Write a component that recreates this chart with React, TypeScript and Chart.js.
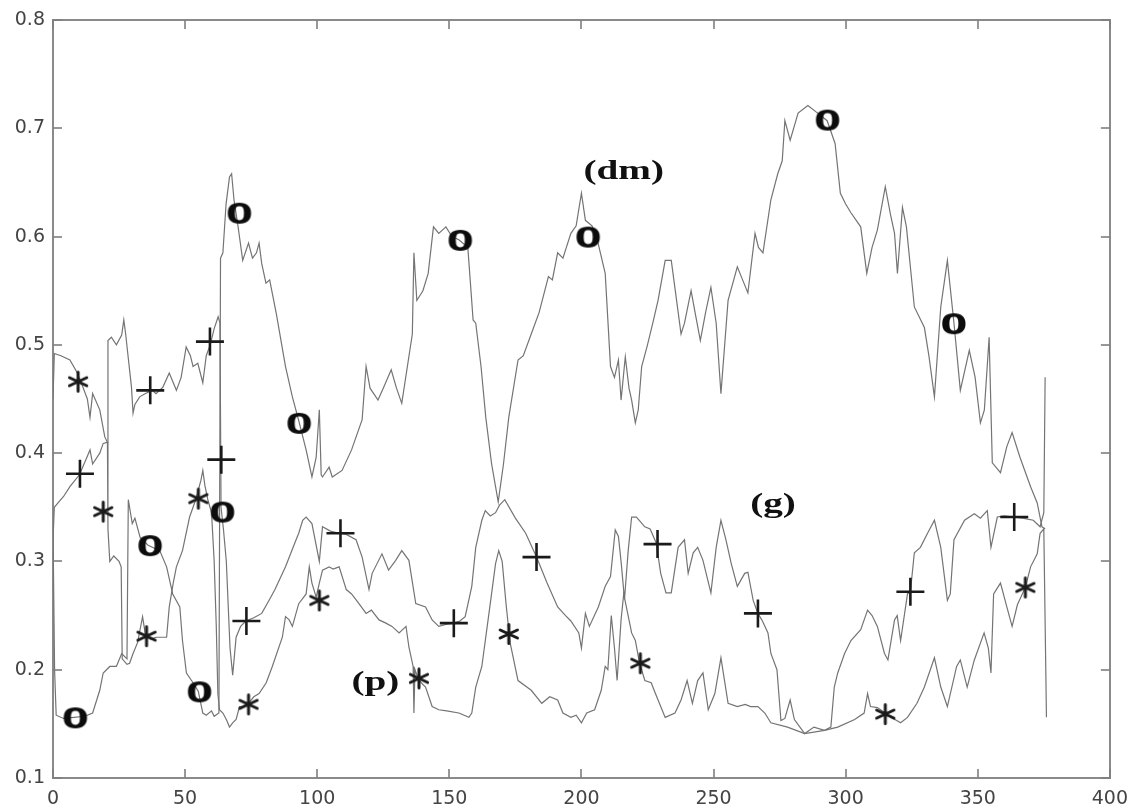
import React, { useEffect, useRef } from 'react';
import { Chart, registerables } from 'chart.js';

Chart.register(...registerables);

// ---- axis ticks ----
const xTickValues = [0, 50, 100, 150, 200, 250, 300, 350, 400];
const yTickValues = [0.1, 0.2, 0.3, 0.4, 0.5, 0.6, 0.7, 0.8];

// ---- curve with "o" markers ----
const lineO: [number, number][] = [
  [0, 0.33], [0.6, 0.2], [1.2, 0.158], [4, 0.155], [8, 0.156], [12, 0.157], [15, 0.16], [17.7, 0.181],
  [19, 0.197], [21.5, 0.203], [24, 0.203], [26, 0.215], [28, 0.21], [28.5, 0.357], [30, 0.335], [31, 0.34],
  [33, 0.322], [36, 0.315], [40.4, 0.31], [43, 0.295], [45.3, 0.27], [48, 0.258], [49, 0.227], [50.5, 0.197],
  [53, 0.188], [55, 0.18], [56.7, 0.16], [58, 0.158], [60, 0.162], [61, 0.157], [62.8, 0.16], [63.4, 0.58],
  [64.3, 0.585], [65.5, 0.63], [66.8, 0.655], [67.6, 0.658], [68.5, 0.634], [70, 0.61], [71.8, 0.578],
  [74, 0.594], [75.5, 0.58], [77, 0.585], [78, 0.594], [79, 0.575], [80.6, 0.557], [82, 0.56], [84.5, 0.529],
  [88, 0.48], [90.6, 0.452], [93, 0.43], [95.8, 0.403], [98, 0.378], [99.6, 0.396], [100.8, 0.44],
  [101.5, 0.38], [102, 0.378], [104.5, 0.387], [105.7, 0.378], [109.4, 0.384], [113, 0.403], [117, 0.431],
  [118.5, 0.48], [120, 0.46], [123, 0.449], [125, 0.46], [128, 0.477], [130, 0.46], [132, 0.446],
  [136, 0.51], [136.6, 0.585], [137.7, 0.541], [140, 0.55], [142, 0.566], [144, 0.609], [146, 0.603],
  [148.7, 0.609], [151, 0.6], [153.6, 0.597], [157, 0.59], [159, 0.523], [160, 0.52], [162, 0.48],
  [163.8, 0.433], [166, 0.39], [168.5, 0.355], [170.5, 0.39], [172.5, 0.433], [176, 0.486], [178, 0.49],
  [181, 0.51], [184, 0.53], [187.5, 0.563], [189, 0.56], [191, 0.585], [193, 0.58], [196, 0.603],
  [198, 0.61], [200, 0.64], [201.5, 0.615], [204, 0.61], [206, 0.597], [209, 0.566], [211, 0.48],
  [212.5, 0.47], [214, 0.486], [215, 0.449], [216.6, 0.489], [218, 0.46], [219, 0.449], [220.4, 0.428],
  [221.5, 0.44], [222.8, 0.48], [225, 0.5], [227, 0.52], [229, 0.541], [231.7, 0.578], [234, 0.578],
  [237.7, 0.51], [239, 0.52], [241.5, 0.55], [243, 0.53], [245, 0.504], [247, 0.53], [249, 0.553],
  [251, 0.52], [252.8, 0.455], [255.5, 0.541], [259, 0.572], [261, 0.56], [263, 0.548], [265.7, 0.603],
  [267, 0.59], [268.7, 0.585], [271.7, 0.634], [274.3, 0.658], [276, 0.67], [277, 0.707], [279, 0.689],
  [282, 0.714], [285.7, 0.721], [289.4, 0.714], [293, 0.707], [296, 0.686], [298, 0.64], [300, 0.63],
  [302, 0.622], [305.7, 0.609], [308, 0.566], [310, 0.59], [312, 0.606], [315, 0.646], [317, 0.62],
  [318.5, 0.603], [319.6, 0.566], [321.5, 0.627], [323, 0.609], [326, 0.535], [329.8, 0.516],
  [331.5, 0.49], [333.6, 0.452], [336, 0.535], [338.5, 0.578], [341, 0.52], [343.4, 0.458],
  [346.8, 0.495], [349, 0.47], [351, 0.428], [352.5, 0.44], [354.3, 0.507], [355.5, 0.391],
  [358.6, 0.382], [361, 0.406], [363, 0.419], [366, 0.396], [370, 0.369], [372.5, 0.354],
  [374.3, 0.332], [375.5, 0.33],
];

// ---- curve with "+" markers ----
const linePlus: [number, number][] = [
  [0, 0.32], [0.5, 0.35], [1.9, 0.354], [4, 0.36], [6.4, 0.369], [10, 0.38], [12.8, 0.396], [14, 0.403],
  [15, 0.39], [17.7, 0.4], [19, 0.409], [20.5, 0.41], [20.8, 0.504], [22.1, 0.507], [24, 0.5], [26, 0.509],
  [26.8, 0.523], [27.5, 0.51], [28.3, 0.492], [29.7, 0.461], [30.3, 0.437], [31, 0.445], [32.8, 0.452],
  [35, 0.455], [37.5, 0.458], [39, 0.455], [41.6, 0.461], [44, 0.474], [46.7, 0.458], [48.5, 0.47],
  [50.4, 0.498], [52, 0.49], [53, 0.48], [54.8, 0.483], [56.7, 0.465], [58, 0.49], [59.5, 0.5],
  [61, 0.515], [62.5, 0.526], [63.2, 0.52], [63.6, 0.35], [64.5, 0.33], [65.6, 0.3], [67, 0.22],
  [68, 0.195], [69.3, 0.23], [71, 0.24], [73, 0.245], [76, 0.248], [79, 0.252], [82, 0.265], [84, 0.274],
  [88, 0.295], [92, 0.32], [93, 0.326], [94.5, 0.338], [95.8, 0.341], [98, 0.335], [100.8, 0.3],
  [102, 0.332], [105, 0.328], [108.3, 0.326], [111, 0.325], [114.7, 0.32], [117, 0.304], [119.6, 0.274],
  [120.8, 0.289], [124.5, 0.307], [127, 0.292], [129.7, 0.301], [132, 0.31], [134.7, 0.301],
  [137.3, 0.261], [141, 0.258], [143.5, 0.246], [146, 0.24], [149, 0.242], [151.7, 0.243], [154, 0.245],
  [156, 0.249], [158.5, 0.277], [160, 0.313], [162.3, 0.338], [163.6, 0.347], [165.5, 0.342],
  [167.5, 0.345], [169, 0.352], [171, 0.357], [175, 0.34], [178.9, 0.326], [183, 0.304], [187, 0.28],
  [191, 0.258], [194, 0.25], [196, 0.245], [199, 0.234], [200, 0.22], [201.5, 0.252], [203, 0.24],
  [206.4, 0.258], [209, 0.277], [211, 0.286], [212.8, 0.329], [214, 0.323], [215, 0.3], [216.3, 0.265],
  [217.7, 0.31], [219, 0.341], [220.8, 0.341], [224, 0.332], [226, 0.33], [228.3, 0.317], [230, 0.289],
  [232, 0.271], [234, 0.271], [236.6, 0.313], [239, 0.32], [240.4, 0.289], [242.3, 0.308], [244, 0.313],
  [246, 0.301], [249, 0.271], [251, 0.313], [252.8, 0.338], [254.7, 0.32], [256.7, 0.298], [259, 0.277],
  [261.8, 0.289], [263, 0.29], [265, 0.264], [266.8, 0.252], [268.5, 0.245], [270.6, 0.234],
  [271.7, 0.215], [274, 0.2], [275.5, 0.153], [277, 0.155], [279, 0.172], [280.6, 0.154], [284.5, 0.141],
  [288, 0.147], [292, 0.144], [294.4, 0.147], [295.7, 0.184], [297, 0.197], [299.6, 0.215], [302, 0.227],
  [305.7, 0.237], [308.3, 0.255], [310, 0.25], [312, 0.24], [314.7, 0.215], [316, 0.209], [318.5, 0.246],
  [319.5, 0.25], [320.8, 0.227], [323.4, 0.27], [324.5, 0.272], [326, 0.308], [328.3, 0.313],
  [331, 0.326], [333.6, 0.338], [336, 0.313], [338.5, 0.264], [339.6, 0.27], [341, 0.32], [345, 0.338],
  [348.7, 0.344], [351, 0.34], [353.6, 0.347], [355, 0.313], [357.4, 0.341], [360, 0.342],
  [363.7, 0.341], [367, 0.34], [371, 0.338], [373.6, 0.332], [375, 0.345], [375.5, 0.47],
];

// ---- curve with "*" markers ----
const lineStar: [number, number][] = [
  [0, 0.45], [0.5, 0.492], [3, 0.49], [6.4, 0.486], [9, 0.475], [11.3, 0.461], [13, 0.45], [14, 0.433],
  [15, 0.455], [17.7, 0.44], [19.6, 0.415], [20.6, 0.41], [20.8, 0.33], [21.5, 0.3], [23, 0.305],
  [25, 0.3], [25.8, 0.295], [26.2, 0.21], [28, 0.205], [29, 0.206], [30.3, 0.215], [32, 0.225],
  [33.9, 0.249], [35, 0.232], [37, 0.228], [39, 0.23], [43, 0.23], [44, 0.258], [45.5, 0.28],
  [46.7, 0.295], [49, 0.31], [51.7, 0.341], [54, 0.357], [56, 0.375], [56.7, 0.384], [57.5, 0.37],
  [58.6, 0.357], [60, 0.345], [61, 0.3], [61.8, 0.24], [62.4, 0.178], [63, 0.163], [64.3, 0.16],
  [65.6, 0.154], [66.8, 0.147], [68, 0.151], [69.3, 0.154], [70.6, 0.166], [71.8, 0.166], [74, 0.169],
  [76, 0.175], [78, 0.178], [80.7, 0.188], [83, 0.203], [86.8, 0.23], [88, 0.249], [89.4, 0.246],
  [90.6, 0.24], [93, 0.261], [95.8, 0.27], [97, 0.295], [98, 0.28], [99.6, 0.267], [100.8, 0.28],
  [102, 0.292], [104.5, 0.295], [106, 0.293], [108.3, 0.295], [111, 0.274], [113, 0.27], [115.8, 0.261],
  [118.5, 0.252], [120.5, 0.255], [123.4, 0.246], [126, 0.243], [128.3, 0.24], [131, 0.234],
  [133.6, 0.24], [134.7, 0.221], [136.3, 0.203], [136.6, 0.16], [137, 0.2], [138.5, 0.19], [141, 0.184],
  [143.5, 0.166], [146, 0.163], [149, 0.162], [153.6, 0.16], [157.4, 0.156], [158.5, 0.16], [160, 0.184],
  [162.3, 0.203], [165, 0.252], [167.5, 0.298], [168.7, 0.31], [170, 0.3], [171.5, 0.26], [173, 0.225],
  [176, 0.19], [181, 0.181], [185, 0.169], [188, 0.175], [191, 0.172], [193, 0.16], [196, 0.156],
  [198, 0.158], [200, 0.151], [202, 0.16], [205, 0.163], [207.5, 0.181], [209, 0.203], [210, 0.2],
  [211.3, 0.25], [212.5, 0.22], [213.5, 0.19], [215, 0.246], [216, 0.27], [217, 0.258], [219, 0.234],
  [220.4, 0.227], [222, 0.206], [224, 0.19], [226.4, 0.188], [228, 0.178], [231.7, 0.156], [235.4, 0.16],
  [237.7, 0.172], [240, 0.19], [242, 0.169], [244, 0.19], [246, 0.197], [248, 0.163], [250.5, 0.178],
  [252.8, 0.211], [255.5, 0.169], [259, 0.166], [262, 0.168], [264, 0.166], [266.8, 0.166],
  [269.4, 0.16], [271.7, 0.151], [278, 0.147], [284.5, 0.141], [292, 0.144], [297, 0.147],
  [303.4, 0.154], [307, 0.16], [308.3, 0.178], [309.4, 0.166], [312, 0.165], [315, 0.16], [318, 0.155],
  [320.8, 0.151], [323.4, 0.156], [327, 0.169], [329.8, 0.184], [333.6, 0.211], [336, 0.184],
  [338.5, 0.166], [342, 0.203], [343.4, 0.209], [346, 0.184], [348.7, 0.209], [352.4, 0.234],
  [354, 0.22], [355, 0.197], [356, 0.27], [358.6, 0.28], [361, 0.258], [363, 0.24], [365, 0.26],
  [368, 0.276], [370, 0.295], [372.5, 0.307], [373.6, 0.326], [375, 0.33], [376, 0.156],
];

// ---- marker positions ----
const marksO: [number, number][] = [
  [8.5, 0.156], [36.8, 0.315], [55.5, 0.18], [64.2, 0.346], [70.6, 0.622], [93.2, 0.428],
  [154.2, 0.597], [202.6, 0.6], [293.2, 0.708], [341, 0.52],
];
const marksPlus: [number, number][] = [
  [10.2, 0.381], [36.8, 0.458], [59.4, 0.503], [63.7, 0.394], [73.2, 0.245], [108.8, 0.326],
  [151.7, 0.243], [183, 0.304], [228.8, 0.316], [266.8, 0.252], [324.5, 0.272], [363.8, 0.341],
];
const marksStar: [number, number][] = [
  [9.5, 0.466], [19, 0.346], [35.4, 0.231], [55, 0.358], [74, 0.168], [100.8, 0.264],
  [138.5, 0.192], [172.5, 0.233], [222.3, 0.206], [315, 0.159], [368, 0.276],
];

// ---- curve names ----
const curveNames = ['(dm)', '(g)', '(p)'];
const curveNameX = [216, 272.5, 122];
const curveNameY = [0.66, 0.352, 0.188];

const toXY = (arr: [number, number][]) => arr.map(([x, y]) => ({ x, y }));

const FRAME = '#8a8a8a';

function makeO(): HTMLCanvasElement {
  const c = document.createElement('canvas');
  c.width = 32;
  c.height = 30;
  const ctx = c.getContext('2d')!;
  ctx.fillStyle = '#0d0d0d';
  ctx.strokeStyle = '#0d0d0d';
  ctx.lineWidth = 2;
  ctx.lineJoin = 'round';
  ctx.font = 'bold 30px "Liberation Serif", "DejaVu Serif", serif';
  ctx.textAlign = 'center';
  ctx.textBaseline = 'alphabetic';
  ctx.save();
  ctx.translate(16, 25);
  ctx.scale(1.04, 1.0);
  ctx.fillText('O', 0, 0);
  ctx.strokeText('O', 0, 0);
  ctx.restore();
  return c;
}

function makeStar(): HTMLCanvasElement {
  const c = document.createElement('canvas');
  c.width = 24;
  c.height = 24;
  const ctx = c.getContext('2d')!;
  ctx.strokeStyle = '#1a1a1a';
  ctx.lineWidth = 3;
  ctx.lineCap = 'round';
  const r = 9.5;
  const angles = [90, 25, 155];
  ctx.beginPath();
  angles.forEach((a) => {
    const rad = (a * Math.PI) / 180;
    ctx.moveTo(12 - r * Math.cos(rad), 12 + r * Math.sin(rad));
    ctx.lineTo(12 + r * Math.cos(rad), 12 - r * Math.sin(rad));
  });
  ctx.stroke();
  return c;
}

const overlayPlugin = {
  id: 'matlabOverlay',
  afterDraw(chart: any) {
    const ctx: CanvasRenderingContext2D = chart.ctx;
    const a = chart.chartArea;
    const xs = chart.scales.x;
    const ys = chart.scales.y;
    ctx.save();
    // inward tick marks on all four sides
    ctx.fillStyle = '#7f7f7f';
    const L = 9;
    const W = 1.6;
    xTickValues.forEach((v) => {
      const px = Math.round(xs.getPixelForValue(v));
      ctx.fillRect(px - W / 2, a.bottom - L, W, L);
      ctx.fillRect(px - W / 2, a.top, W, L);
    });
    yTickValues.forEach((v) => {
      const py = Math.round(ys.getPixelForValue(v));
      ctx.fillRect(a.left, py - W / 2, L, W);
      ctx.fillRect(a.right - L, py - W / 2, L, W);
    });

    // curve names
    ctx.fillStyle = '#111';
    ctx.font = 'bold 28px "Liberation Serif", "DejaVu Serif", serif';
    ctx.textAlign = 'center';
    ctx.textBaseline = 'middle';
    curveNames.forEach((name, i) => {
      const px = xs.getPixelForValue(curveNameX[i]);
      const py = ys.getPixelForValue(curveNameY[i]);
      ctx.save();
      ctx.translate(px, py);
      ctx.scale(1.4, 1);
      ctx.fillText(name, 0, 0);
      ctx.restore();
    });
    ctx.restore();
  },
};

export default function App() {
  const ref = useRef<HTMLCanvasElement>(null);

  useEffect(() => {
    if (!ref.current) return;
    const oImg = makeO();
    const starImg = makeStar();
    const lineStyle = {
      showLine: true,
      pointRadius: 0,
      pointHoverRadius: 0,
      borderColor: '#747474',
      borderWidth: 1.2,
      tension: 0,
      fill: false,
      order: 2,
    };
    const frameBorder = { display: true, color: FRAME, width: 2 };
    const hiddenGrid = { display: true, drawOnChartArea: false, drawTicks: false };
    const chart = new Chart(ref.current, {
      type: 'scatter',
      data: {
        datasets: [
          { label: 'o', data: toXY(marksO), pointStyle: oImg as any, order: 0, showLine: false },
          {
            label: '+',
            data: toXY(marksPlus),
            pointStyle: 'cross',
            pointRadius: 14,
            borderColor: '#1a1a1a',
            backgroundColor: '#1a1a1a',
            pointBorderWidth: 2.6,
            order: 0,
            showLine: false,
          } as any,
          { label: '*', data: toXY(marksStar), pointStyle: starImg as any, order: 0, showLine: false },
          { label: 'dm', data: toXY(lineO), ...lineStyle } as any,
          { label: 'g', data: toXY(linePlus), ...lineStyle } as any,
          { label: 'p', data: toXY(lineStar), ...lineStyle } as any,
        ],
      },
      options: {
        animation: false,
        responsive: false,
        maintainAspectRatio: false,
        devicePixelRatio: 1,
        events: [],
        layout: { padding: { top: 20, right: 25, left: 0, bottom: 0 } },
        plugins: { legend: { display: false }, tooltip: { enabled: false } },
        scales: {
          x: {
            type: 'linear',
            position: 'bottom',
            min: 0,
            max: 400,
            grid: hiddenGrid,
            border: frameBorder,
            afterBuildTicks: (s: any) => {
              s.ticks = xTickValues.map((v) => ({ value: v }));
            },
            afterFit: (s: any) => {
              s.height = 28;
            },
            ticks: {
              autoSkip: false,
              maxRotation: 0,
              padding: 10,
              color: '#444',
              font: { family: '"DejaVu Sans", sans-serif', size: 19 },
              callback: (v: any) => String(v),
            },
          },
          xTop: {
            type: 'linear',
            position: 'top',
            min: 0,
            max: 400,
            grid: hiddenGrid,
            border: frameBorder,
            ticks: { display: false },
            afterFit: (s: any) => {
              s.height = 0;
            },
          },
          y: {
            type: 'linear',
            position: 'left',
            min: 0.1,
            max: 0.8,
            grid: hiddenGrid,
            border: frameBorder,
            afterBuildTicks: (s: any) => {
              s.ticks = yTickValues.map((v) => ({ value: v }));
            },
            afterFit: (s: any) => {
              s.width = 53;
            },
            ticks: {
              autoSkip: false,
              padding: 8,
              color: '#444',
              font: { family: '"DejaVu Sans", sans-serif', size: 19 },
              callback: (v: any) => Number(v).toFixed(1),
            },
          },
          yRight: {
            type: 'linear',
            position: 'right',
            min: 0.1,
            max: 0.8,
            grid: hiddenGrid,
            border: frameBorder,
            ticks: { display: false },
            afterFit: (s: any) => {
              s.width = 0;
            },
          },
        },
      },
      plugins: [overlayPlugin],
    });
    return () => chart.destroy();
  }, []);

  return (
    <div style={{ position: 'fixed', left: 0, top: 0, width: 1138, height: 806, background: '#fff' }}>
      <canvas ref={ref} width={1138} height={806} style={{ display: 'block', width: 1138, height: 806 }} />
    </div>
  );
}
